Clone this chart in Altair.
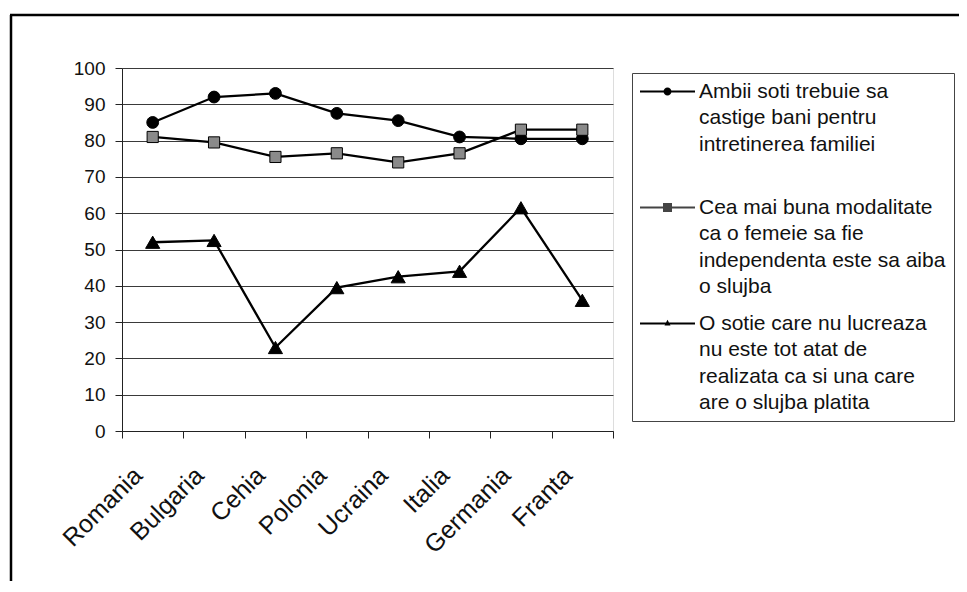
import altair as alt
import pandas as pd

countries = ["Romania", "Bulgaria", "Cehia", "Polonia", "Ucraina", "Italia", "Germania", "Franta"]

serie_ambii = [85, 92, 93, 87.5, 85.5, 81, 80.5, 80.5]
serie_modalitate = [81, 79.5, 75.5, 76.5, 74, 76.5, 83, 83]
serie_sotie = [52, 52.5, 23, 39.5, 42.5, 44, 61.5, 36]

legend_ambii = ["Ambii soti trebuie sa", "castige bani pentru", "intretinerea familiei"]
legend_modalitate = ["Cea mai buna modalitate", "ca o femeie sa fie",
                     "independenta este sa aiba", "o slujba"]
legend_sotie = ["O sotie care nu lucreaza", "nu este tot atat de",
                "realizata ca si una care", "are o slujba platita"]

y_ticks = list(range(0, 101, 10))

series_names = ["|".join(legend_ambii), "|".join(legend_modalitate), "|".join(legend_sotie)]
series_values = [serie_ambii, serie_modalitate, serie_sotie]

rows = []
for name, vals in zip(series_names, series_values):
    for c, v in zip(countries, vals):
        rows.append({"country": c, "value": v, "series": name})
df = pd.DataFrame(rows)

FONT = "Liberation Sans"

x_enc = alt.X(
    "country:N",
    sort=countries,
    scale=alt.Scale(type="band", paddingInner=0, paddingOuter=0),
    axis=alt.Axis(
        title=None, labelAngle=-45, labelAlign="right", labelBaseline="middle",
        labelFontSize=25, labelFont=FONT, labelColor="#111", labelPadding=33,
        labelOffset=-15, tickBand="extent", tickSize=7, tickColor="#222",
        domainColor="#222", grid=False,
    ),
)
y_enc = alt.Y(
    "value:Q",
    scale=alt.Scale(domain=[0, 100], nice=False),
    axis=alt.Axis(
        title=None, values=y_ticks, grid=True, gridColor="#3a3a3a", gridWidth=1.2,
        tickSize=7, tickColor="#222", domainColor="#222", labelPadding=10,
        labelFontSize=19, labelFont=FONT, labelColor="#111",
    ),
)

base = alt.Chart(df)

lines = base.mark_line(color="black", strokeWidth=2.3).encode(
    x=x_enc, y=y_enc, detail="series:N"
)

shape_dom = series_names
points = base.mark_point(filled=True, stroke="black", strokeWidth=1, opacity=1).encode(
    x=x_enc, y=y_enc,
    shape=alt.Shape("series:N", scale=alt.Scale(domain=shape_dom,
                    range=["circle", "square", "triangle-up"]), legend=None),
    fill=alt.Fill("series:N", scale=alt.Scale(domain=shape_dom,
                  range=["black", "#8a8a8a", "black"]), legend=None),
    size=alt.Size("series:N", scale=alt.Scale(type="ordinal", domain=shape_dom,
                  range=[140, 125, 200]), legend=None),
)

# legend glyphs: a short line with the marker in its middle (all filled sub-paths)
legend_paths = [
    "M-2.75,-0.09H2.75V0.09H-2.75Z M0.4,0A0.4,0.4 0 1,1 -0.4,0A0.4,0.4 0 1,1 0.4,0Z",
    "M-2.75,-0.09H2.75V0.09H-2.75Z M-0.45,-0.45H0.45V0.45H-0.45Z",
    "M-2.75,-0.09H2.75V0.09H-2.75Z M0,-0.38L0.3,0.2H-0.3Z",
]

leg = alt.Legend(
    title=None, orient="none", legendX=510, legendY=5,
    symbolSize=400, symbolOffset=17, symbolStrokeWidth=0,
    symbolOpacity=1, labelFont=FONT, labelFontSize=21, labelColor="#111",
    labelLimit=500, labelOffset=21, padding=8, rowPadding=15,
    strokeColor="#444", fillColor="white",
    labelExpr="split(indexof(datum.label, 'Ambii') == 0 ? datum.label + '| ' : datum.label, '|')",
)

legend_layer = base.mark_point(filled=True, opacity=0).encode(
    x=x_enc, y=y_enc,
    shape=alt.Shape("series:N", scale=alt.Scale(domain=shape_dom, range=legend_paths), legend=leg),
    fill=alt.Fill("series:N", scale=alt.Scale(domain=shape_dom,
                  range=["black", "#444444", "black"]), legend=leg),
)

frame_df = pd.DataFrame({"k": [0]})
frame_left = alt.Chart(frame_df).mark_rule(color="black", strokeWidth=2.5).encode(
    x=alt.value(-111), y=alt.value(-53), y2=alt.value(600)
)
frame_top = alt.Chart(frame_df).mark_rule(color="black", strokeWidth=2.5).encode(
    x=alt.value(-112), x2=alt.value(900), y=alt.value(-53)
)

chart = alt.layer(lines, points, legend_layer, frame_left, frame_top).resolve_scale(
    shape="independent", fill="independent"
).resolve_legend(shape="independent", fill="independent").properties(
    width=491, height=363,
    padding={"left": 114, "top": 60, "right": 346, "bottom": 150},
    autosize=alt.AutoSizeParams(type="none"),
    background="white",
).configure_view(stroke="#444", strokeWidth=1).configure(
    style={"guide-label": {"lineHeight": 26.5}}
)

chart.save("out.html", embed_options={"renderer": "svg", "actions": False})
